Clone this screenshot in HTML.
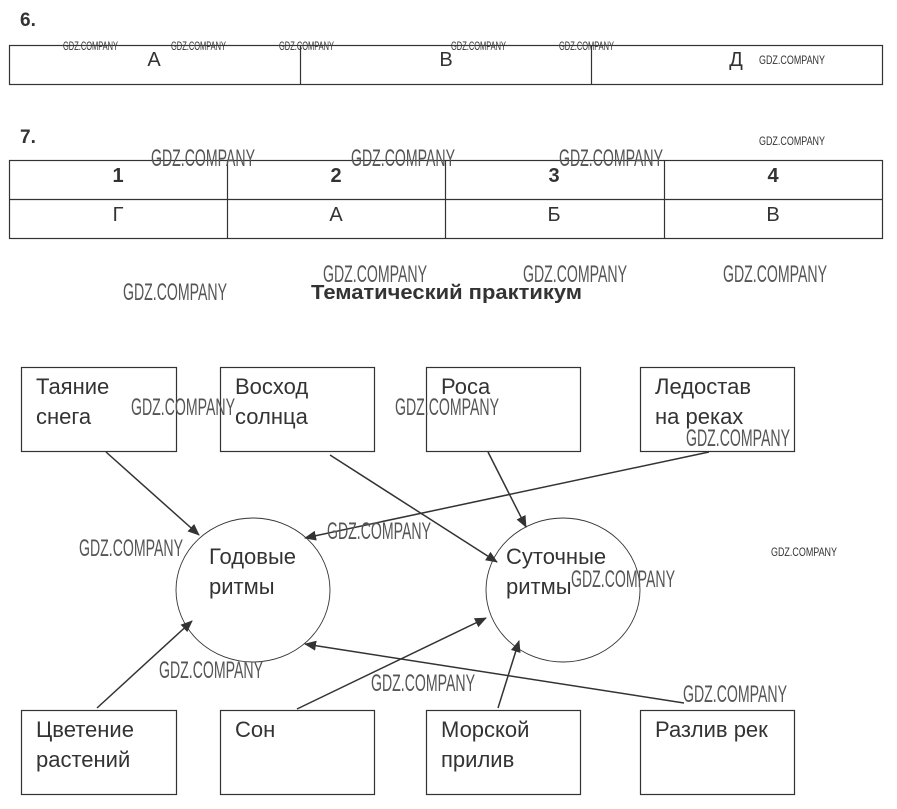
<!DOCTYPE html>
<html><head><meta charset="utf-8"><style>body{margin:0;background:#fff}svg{display:block}</style></head>
<body>
<svg width="897" height="809" viewBox="0 0 897 809" xmlns="http://www.w3.org/2000/svg" font-family="Liberation Sans, sans-serif">
<defs><marker id="a" markerWidth="12" markerHeight="10" refX="11" refY="5" orient="auto" markerUnits="userSpaceOnUse"><path d="M0,0 L12,5 L0,10 Z" fill="#333"/></marker></defs>
<g fill="#333" font-size="20">
<text x="20" y="26" font-weight="bold" font-size="19">6.</text>
<text x="20" y="143" font-weight="bold" font-size="19">7.</text>
</g>
<g stroke="#333" stroke-width="1.2" fill="none">
<rect x="9.5" y="45.5" width="873" height="39"/>
<line x1="300.5" y1="45" x2="300.5" y2="85"/><line x1="591.5" y1="45" x2="591.5" y2="85"/>
<rect x="9.5" y="160.5" width="873" height="78"/>
<line x1="9" y1="199.5" x2="883" y2="199.5"/>
<line x1="227.5" y1="160" x2="227.5" y2="239"/><line x1="445.5" y1="160" x2="445.5" y2="239"/><line x1="664.5" y1="160" x2="664.5" y2="239"/>
</g>
<g fill="#333" font-size="20" text-anchor="middle">
<text x="154" y="66">А</text><text x="446" y="66">В</text><text x="736" y="66">Д</text>
<text x="118" y="182" font-weight="bold">1</text><text x="336" y="182" font-weight="bold">2</text><text x="554" y="182" font-weight="bold">3</text><text x="773" y="182" font-weight="bold">4</text>
<text x="118" y="221">Г</text><text x="336" y="221">А</text><text x="554" y="221">Б</text><text x="773" y="221">В</text>
</g>
<text x="311" y="299" font-size="20" font-weight="bold" fill="#333" textLength="271" lengthAdjust="spacingAndGlyphs">Тематический практикум</text>
<g stroke="#333" stroke-width="1.2" fill="none">
<rect x="21.5" y="367.5" width="155" height="84"/><rect x="220.5" y="367.5" width="154" height="84"/><rect x="426.5" y="367.5" width="154" height="84"/><rect x="640.5" y="367.5" width="154" height="84"/>
<rect x="21.5" y="710.5" width="155" height="84"/><rect x="220.5" y="710.5" width="154" height="84"/><rect x="426.5" y="710.5" width="154" height="84"/><rect x="640.5" y="710.5" width="154" height="84"/>
<ellipse cx="253" cy="590" rx="77" ry="72" stroke-width="0.9"/>
<ellipse cx="563" cy="590" rx="77" ry="72" stroke-width="0.9"/>
</g>
<g stroke="#333" stroke-width="1.5" marker-end="url(#a)">
<line x1="106" y1="452" x2="199" y2="535"/>
<line x1="330" y1="455" x2="497" y2="562"/>
<line x1="488" y1="452" x2="526" y2="527"/>
<line x1="709" y1="452" x2="305" y2="538"/>
<line x1="97" y1="708" x2="192" y2="621"/>
<line x1="297" y1="709" x2="486" y2="618"/>
<line x1="498" y1="708" x2="519" y2="641"/>
<line x1="684" y1="703" x2="305" y2="644"/>
</g>
<g fill="#333" font-size="22">
<text x="36" y="394">Таяние</text><text x="36" y="424">снега</text>
<text x="235" y="394">Восход</text><text x="235" y="424">солнца</text>
<text x="441" y="394">Роса</text>
<text x="655" y="394">Ледостав</text><text x="655" y="424">на реках</text>
<text x="209" y="564">Годовые</text><text x="209" y="594">ритмы</text>
<text x="506" y="564">Суточные</text><text x="506" y="594">ритмы</text>
<text x="36" y="737">Цветение</text><text x="36" y="767">растений</text>
<text x="235" y="737">Сон</text>
<text x="441" y="737">Морской</text><text x="441" y="767">прилив</text>
<text x="655" y="737">Разлив рек</text>
</g>
<g fill="#555" font-size="24">
<text x="151" y="166" textLength="104" lengthAdjust="spacingAndGlyphs">GDZ.COMPANY</text>
<text x="351" y="166" textLength="104" lengthAdjust="spacingAndGlyphs">GDZ.COMPANY</text>
<text x="559" y="166" textLength="104" lengthAdjust="spacingAndGlyphs">GDZ.COMPANY</text>
<text x="123" y="300" textLength="104" lengthAdjust="spacingAndGlyphs">GDZ.COMPANY</text>
<text x="323" y="282" textLength="104" lengthAdjust="spacingAndGlyphs">GDZ.COMPANY</text>
<text x="523" y="282" textLength="104" lengthAdjust="spacingAndGlyphs">GDZ.COMPANY</text>
<text x="723" y="282" textLength="104" lengthAdjust="spacingAndGlyphs">GDZ.COMPANY</text>
<text x="131" y="415" textLength="104" lengthAdjust="spacingAndGlyphs">GDZ.COMPANY</text>
<text x="395" y="415" textLength="104" lengthAdjust="spacingAndGlyphs">GDZ.COMPANY</text>
<text x="686" y="446" textLength="104" lengthAdjust="spacingAndGlyphs">GDZ.COMPANY</text>
<text x="79" y="556" textLength="104" lengthAdjust="spacingAndGlyphs">GDZ.COMPANY</text>
<text x="327" y="539" textLength="104" lengthAdjust="spacingAndGlyphs">GDZ.COMPANY</text>
<text x="571" y="587" textLength="104" lengthAdjust="spacingAndGlyphs">GDZ.COMPANY</text>
<text x="159" y="678" textLength="104" lengthAdjust="spacingAndGlyphs">GDZ.COMPANY</text>
<text x="371" y="691" textLength="104" lengthAdjust="spacingAndGlyphs">GDZ.COMPANY</text>
<text x="683" y="702" textLength="104" lengthAdjust="spacingAndGlyphs">GDZ.COMPANY</text>
</g>
<g fill="#333" font-size="12">
<text x="63" y="50" textLength="55" lengthAdjust="spacingAndGlyphs">GDZ.COMPANY</text>
<text x="171" y="50" textLength="55" lengthAdjust="spacingAndGlyphs">GDZ.COMPANY</text>
<text x="279" y="50" textLength="55" lengthAdjust="spacingAndGlyphs">GDZ.COMPANY</text>
<text x="451" y="50" textLength="55" lengthAdjust="spacingAndGlyphs">GDZ.COMPANY</text>
<text x="559" y="50" textLength="55" lengthAdjust="spacingAndGlyphs">GDZ.COMPANY</text>
<text x="759" y="64" textLength="66" lengthAdjust="spacingAndGlyphs">GDZ.COMPANY</text>
<text x="759" y="145" textLength="66" lengthAdjust="spacingAndGlyphs">GDZ.COMPANY</text>
<text x="771" y="556" textLength="66" lengthAdjust="spacingAndGlyphs">GDZ.COMPANY</text>
</g>
</svg>
</body></html>
